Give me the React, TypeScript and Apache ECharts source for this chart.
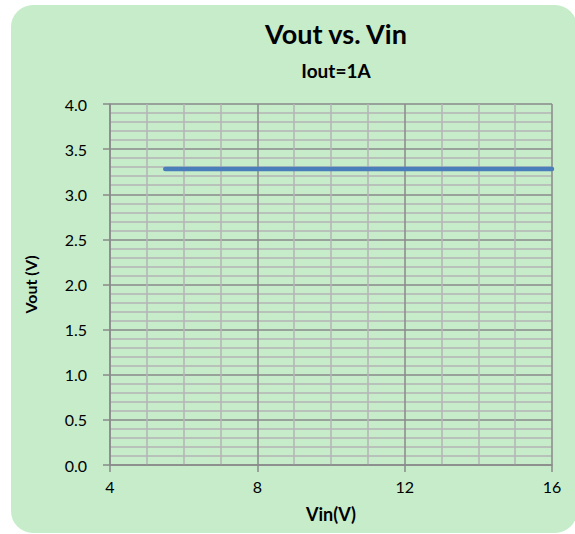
import React, { useEffect, useRef } from "react";
import * as echarts from "echarts";

const vin: number[] = [5.5, 6, 7, 8, 9, 10, 11, 12, 13, 14, 15, 16];
const vout: number[] = [3.28, 3.28, 3.28, 3.28, 3.28, 3.28, 3.28, 3.28, 3.28, 3.28, 3.28, 3.28];
const chartTitle = "Vout vs. Vin";
const chartSubtitle = "Iout=1A";
const xName = "Vin(V)";
const yName = "Vout (V)";

const FONT = "Lato, 'Open Sans', sans-serif";

export default function App() {
  const ref = useRef<HTMLDivElement>(null);
  useEffect(() => {
    document.body.style.margin = "0";
    const chart = echarts.init(ref.current!, null, { renderer: "svg" });
    const major = "#8a8a8a";
    const minor = "#b5b5b5";
    chart.setOption({
      animation: false,
      textStyle: { fontFamily: FONT },
      graphic: [
        {
          type: "rect",
          z: -10,
          silent: true,
          shape: { x: 11, y: 5, width: 566, height: 528, r: 22 },
          style: { fill: "#c6ecca" },
        },
      ],
      title: [
        {
          text: chartTitle,
          left: 331,
          top: 15,
          textAlign: "center",
          textStyle: { fontFamily: FONT, fontSize: 27, fontWeight: "bold", color: "#000" },
        },
        {
          text: chartSubtitle,
          left: 331,
          top: 56,
          textAlign: "center",
          textStyle: { fontFamily: FONT, fontSize: 19, fontWeight: "bold", color: "#000" },
        },
      ],
      grid: { left: 110, right: 23, top: 104, bottom: 69, containLabel: false },
      xAxis: {
        type: "value",
        min: 4,
        max: 16,
        interval: 4,
        name: xName,
        nameLocation: "middle",
        nameGap: 40,
        nameTextStyle: { fontFamily: FONT, fontSize: 18, fontWeight: "bold", color: "#000" },
        axisLine: { show: true, lineStyle: { color: major, width: 1.5 } },
        axisTick: { show: true, length: 7, lineStyle: { color: major, width: 1.5 } },
        axisLabel: { fontFamily: FONT, fontSize: 16, color: "#000", margin: 13 },
        splitLine: { show: true, lineStyle: { color: major, width: 1.5 } },
        minorTick: { show: false, splitNumber: 4 },
        minorSplitLine: { show: true, lineStyle: { color: minor, width: 1.5 } },
      },
      yAxis: {
        type: "value",
        min: 0,
        max: 4,
        interval: 0.5,
        name: yName,
        nameLocation: "middle",
        nameRotate: 90,
        nameGap: 72,
        nameTextStyle: { fontFamily: FONT, fontSize: 16, fontWeight: "bold", color: "#000" },
        axisLine: { show: true, lineStyle: { color: major, width: 1.5 } },
        axisTick: { show: true, length: 7, lineStyle: { color: major, width: 1.5 } },
        axisLabel: {
          fontFamily: FONT,
          fontSize: 16,
          color: "#000",
          margin: 23,
          formatter: (v: number) => v.toFixed(1),
        },
        splitLine: { show: true, lineStyle: { color: major, width: 1.5 } },
        minorTick: { show: false, splitNumber: 5 },
        minorSplitLine: { show: true, lineStyle: { color: minor, width: 1.5 } },
      },
      series: [
        {
          type: "line",
          data: vin.map((x, i) => [x, vout[i]]),
          showSymbol: false,
          symbol: "none",
          lineStyle: { color: "#4a7ebb", width: 4.5, cap: "round" },
        },
      ],
    });
    return () => chart.dispose();
  }, []);
  return (
    <div
      ref={ref}
      style={{ position: "absolute", left: 0, top: 0, width: 575, height: 534 }}
    />
  );
}
